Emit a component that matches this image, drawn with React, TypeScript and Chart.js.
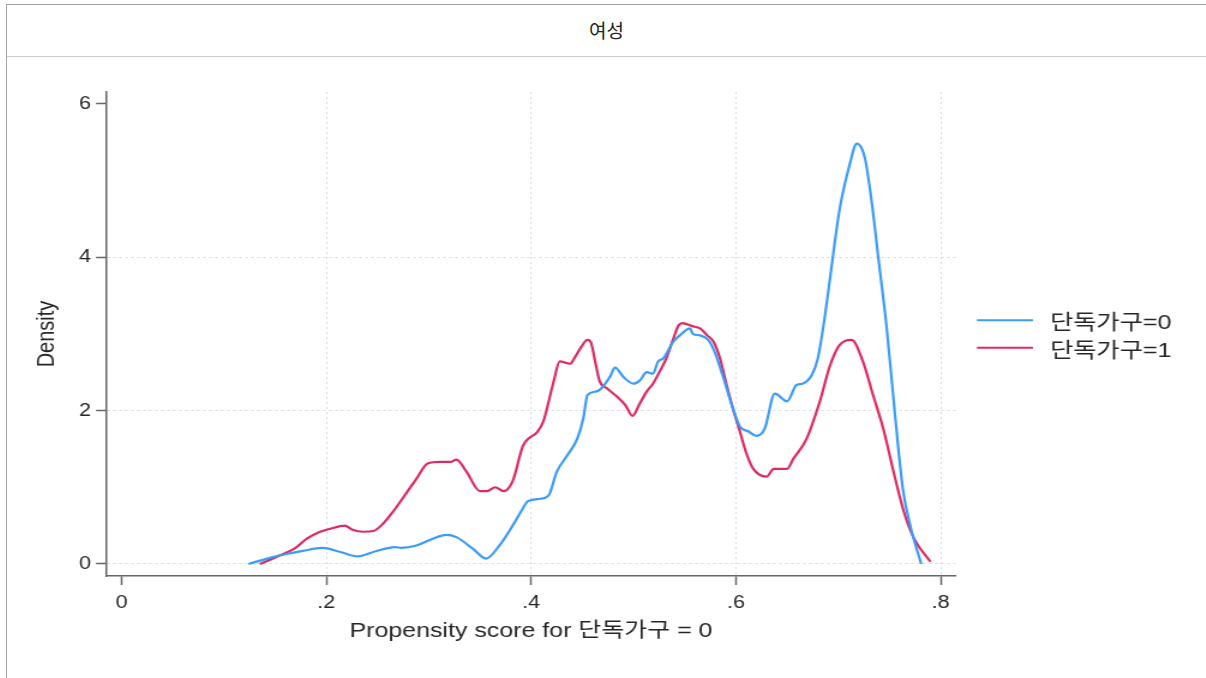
import React, { useEffect, useRef } from "react";
import { Chart, registerables } from "chart.js";

Chart.register(...registerables);

// ---- data ----
const HEADER_TEXT = "여성";
const SERIES_LABELS = ["단독가구=0", "단독가구=1"];
const X_TITLE = "Propensity score for 단독가구 = 0";
const Y_TITLE = "Density";

const X_TICKS = [0, 0.2, 0.4, 0.6, 0.8];
const X_TICK_LABELS = ["0", ".2", ".4", ".6", ".8"];
const Y_TICKS = [0, 2, 4, 6];
const Y_TICK_LABELS = ["0", "2", "4", "6"];
const X_RANGE = [-0.0151, 0.8149];
const Y_RANGE = [-0.1565, 6.152];

const BLUE_X = [
  0.124, 0.145, 0.161, 0.177, 0.196, 0.213, 0.231, 0.249, 0.267, 0.273, 0.288, 0.304,
  0.317, 0.327, 0.343, 0.356, 0.369, 0.382, 0.39, 0.397, 0.409, 0.417, 0.425, 0.435,
  0.445, 0.451, 0.455, 0.464, 0.47, 0.477, 0.482, 0.49, 0.5, 0.506, 0.513, 0.519,
  0.524, 0.529, 0.539, 0.547, 0.555, 0.558, 0.565, 0.573, 0.579, 0.587, 0.597, 0.604,
  0.612, 0.62, 0.628, 0.638, 0.65, 0.659, 0.665, 0.674, 0.68, 0.687, 0.692, 0.701,
  0.711, 0.718, 0.726, 0.733, 0.739, 0.747, 0.755, 0.763, 0.771, 0.781,
];
const BLUE_Y = [
  0.0, 0.08, 0.13, 0.17, 0.21, 0.16, 0.1, 0.17, 0.22, 0.21, 0.24, 0.33,
  0.38, 0.35, 0.2, 0.07, 0.24, 0.5, 0.68, 0.82, 0.85, 0.89, 1.2, 1.41,
  1.63, 1.9, 2.2, 2.25, 2.31, 2.44, 2.56, 2.44, 2.35, 2.39, 2.5, 2.48,
  2.64, 2.68, 2.9, 3.0, 3.07, 3.0, 2.98, 2.92, 2.77, 2.46, 2.03, 1.79,
  1.73, 1.67, 1.76, 2.22, 2.12, 2.33, 2.35, 2.46, 2.68, 3.24, 3.73, 4.6,
  5.2, 5.48, 5.29, 4.68, 4.0, 3.11, 2.0, 0.98, 0.46, 0.0,
];

const RED_X = [
  0.135, 0.153, 0.171, 0.181, 0.194, 0.204, 0.218, 0.225, 0.236, 0.246, 0.255, 0.265,
  0.279, 0.288, 0.299, 0.311, 0.321, 0.327, 0.337, 0.35, 0.357, 0.365, 0.373, 0.382,
  0.392, 0.397, 0.406, 0.412, 0.422, 0.428, 0.438, 0.443, 0.45, 0.455, 0.458, 0.463,
  0.467, 0.474, 0.484, 0.492, 0.499, 0.506, 0.513, 0.519, 0.526, 0.532, 0.539, 0.544,
  0.548, 0.557, 0.565, 0.572, 0.578, 0.584, 0.591, 0.597, 0.604, 0.61, 0.617, 0.63,
  0.637, 0.65, 0.656, 0.669, 0.682, 0.692, 0.701, 0.713, 0.724, 0.734, 0.744, 0.754,
  0.764, 0.774, 0.79,
];
const RED_Y = [
  0.0, 0.1, 0.22, 0.33, 0.42, 0.46, 0.5, 0.45, 0.42, 0.43, 0.52, 0.68,
  0.94, 1.11, 1.31, 1.33, 1.33, 1.36, 1.2, 0.95, 0.95, 1.0, 0.95, 1.08,
  1.54, 1.63, 1.72, 1.86, 2.38, 2.64, 2.61, 2.7, 2.85, 2.92, 2.9, 2.61,
  2.38, 2.29, 2.18, 2.07, 1.93, 2.09, 2.25, 2.35, 2.52, 2.68, 2.94, 3.11,
  3.14, 3.1, 3.07, 2.98, 2.9, 2.7, 2.33, 2.03, 1.72, 1.45, 1.24, 1.14,
  1.24, 1.24, 1.37, 1.63, 2.12, 2.59, 2.85, 2.92, 2.64, 2.2, 1.76, 1.2,
  0.68, 0.33, 0.03,
];

const SERIES_COLORS = ["rgb(58,156,250)", "rgb(222,42,96)"];

// ---- layout (logical canvas units; canvas is stretched horizontally) ----
const STRETCH = 1.2;
const CANVAS_W = 999;
const CANVAS_H = 618;
const FONT_FAMILY = "'Liberation Sans', Arial, 'Noto Sans CJK KR', sans-serif";
const TEXT_COLOR = "#262626";
const AXIS_COLOR = "#666666";
const GRID_COLOR = "#d9d9d9";

const sideLegend = {
  id: "sideLegend",
  afterDraw(chart: any) {
    const { ctx, chartArea } = chart;
    const mid = (chartArea.top + chartArea.bottom) / 2;
    const x0 = chartArea.right + 17.5;
    const x1 = x0 + 46.7;
    const tx = chartArea.right + 78.4;
    ctx.save();
    chart.data.datasets.forEach((ds: any, i: number) => {
      const y = mid - 13.8 + i * 27.6;
      ctx.strokeStyle = ds.borderColor;
      ctx.lineWidth = 2;
      ctx.beginPath();
      ctx.moveTo(x0, y);
      ctx.lineTo(x1, y);
      ctx.stroke();
      ctx.fillStyle = TEXT_COLOR;
      ctx.font = `21px ${FONT_FAMILY}`;
      ctx.textBaseline = "middle";
      ctx.textAlign = "left";
      ctx.fillText(ds.label, tx, y + 3);
    });
    ctx.restore();
  },
};

export default function App() {
  const canvasRef = useRef<HTMLCanvasElement | null>(null);

  useEffect(() => {
    if (!canvasRef.current) return;
    const chart = new Chart(canvasRef.current, {
      type: "line",
      data: {
        datasets: [
          {
            label: SERIES_LABELS[0],
            data: BLUE_X.map((x, i) => ({ x, y: BLUE_Y[i] })),
            borderColor: SERIES_COLORS[0],
            backgroundColor: SERIES_COLORS[0],
            borderWidth: 2.2,
            pointRadius: 0,
            fill: false,
            cubicInterpolationMode: "monotone",
          },
          {
            label: SERIES_LABELS[1],
            data: RED_X.map((x, i) => ({ x, y: RED_Y[i] })),
            borderColor: SERIES_COLORS[1],
            backgroundColor: SERIES_COLORS[1],
            borderWidth: 2.2,
            pointRadius: 0,
            fill: false,
            cubicInterpolationMode: "monotone",
          },
        ],
      },
      options: {
        responsive: false,
        animation: false,
        events: [],
        layout: { padding: { top: 35, right: 208.2, bottom: 0, left: 0 } },
        plugins: {
          legend: { display: false },
          tooltip: { enabled: false },
        },
        scales: {
          x: {
            type: "linear",
            min: X_RANGE[0],
            max: X_RANGE[1],
            afterBuildTicks: (s: any) => {
              s.ticks = X_TICKS.map((v) => ({ value: v }));
            },
            afterFit: (s: any) => {
              s.height = 99;
            },
            ticks: {
              autoSkip: false,
              maxRotation: 0,
              padding: 7.2,
              color: TEXT_COLOR,
              font: { family: FONT_FAMILY, size: 18 },
              callback: (v: any) => X_TICK_LABELS[X_TICKS.indexOf(Number(v))] ?? "",
            },
            grid: {
              color: (c: any) => (c.tick && c.tick.value === 0 ? "rgba(0,0,0,0)" : GRID_COLOR),
              lineWidth: 1,
              drawTicks: true,
              tickLength: 9,
              tickColor: AXIS_COLOR,
              tickWidth: 1.5,
              tickBorderDash: [],
            },
            border: { display: true, color: AXIS_COLOR, width: 1.5, dash: [2, 3] },
            title: {
              display: true,
              text: X_TITLE,
              color: TEXT_COLOR,
              font: { family: FONT_FAMILY, size: 20.8 },
              padding: { top: 0, bottom: 31 },
            },
          },
          y: {
            type: "linear",
            min: Y_RANGE[0],
            max: Y_RANGE[1],
            afterBuildTicks: (s: any) => {
              s.ticks = Y_TICKS.map((v) => ({ value: v }));
            },
            afterFit: (s: any) => {
              s.width = 82.5;
            },
            ticks: {
              padding: 4.2,
              color: TEXT_COLOR,
              font: { family: FONT_FAMILY, size: 18 },
              callback: (v: any) => Y_TICK_LABELS[Y_TICKS.indexOf(Number(v))] ?? "",
            },
            grid: {
              color: (c: any) => (c.tick && c.tick.value === 6 ? "rgba(0,0,0,0)" : GRID_COLOR),
              lineWidth: 1,
              drawTicks: true,
              tickLength: 8.3,
              tickColor: AXIS_COLOR,
              tickWidth: 1.5,
              tickBorderDash: [],
            },
            border: { display: true, color: AXIS_COLOR, width: 1.5, dash: [2, 3] },
            title: {
              display: true,
              text: Y_TITLE,
              color: TEXT_COLOR,
              font: { family: FONT_FAMILY, size: 20 },
              padding: { top: 21.3, bottom: 0 },
            },
          },
        },
      } as any,
      plugins: [sideLegend],
    });
    return () => chart.destroy();
  }, []);

  return (
    <div
      style={{
        position: "absolute",
        left: 6,
        top: 4,
        width: 1200,
        height: 674,
        boxSizing: "border-box",
        borderTop: "1px solid #a3a3a3",
        borderLeft: "1px solid #a3a3a3",
        overflow: "hidden",
        background: "#ffffff",
      }}
    >
      <div
        style={{
          height: 52,
          borderBottom: "1px solid #cccccc",
          display: "flex",
          alignItems: "center",
          justifyContent: "center",
          fontFamily: "'Noto Sans CJK KR', sans-serif",
          fontSize: 19,
          color: "#222222",
          paddingBottom: 3,
          boxSizing: "border-box",
        }}
      >
        {HEADER_TEXT}
      </div>
      <div
        style={{
          width: CANVAS_W,
          height: CANVAS_H,
          transform: `scaleX(${STRETCH})`,
          transformOrigin: "0 0",
        }}
      >
        <canvas ref={canvasRef} width={CANVAS_W} height={CANVAS_H} style={{ display: "block" }} />
      </div>
    </div>
  );
}
